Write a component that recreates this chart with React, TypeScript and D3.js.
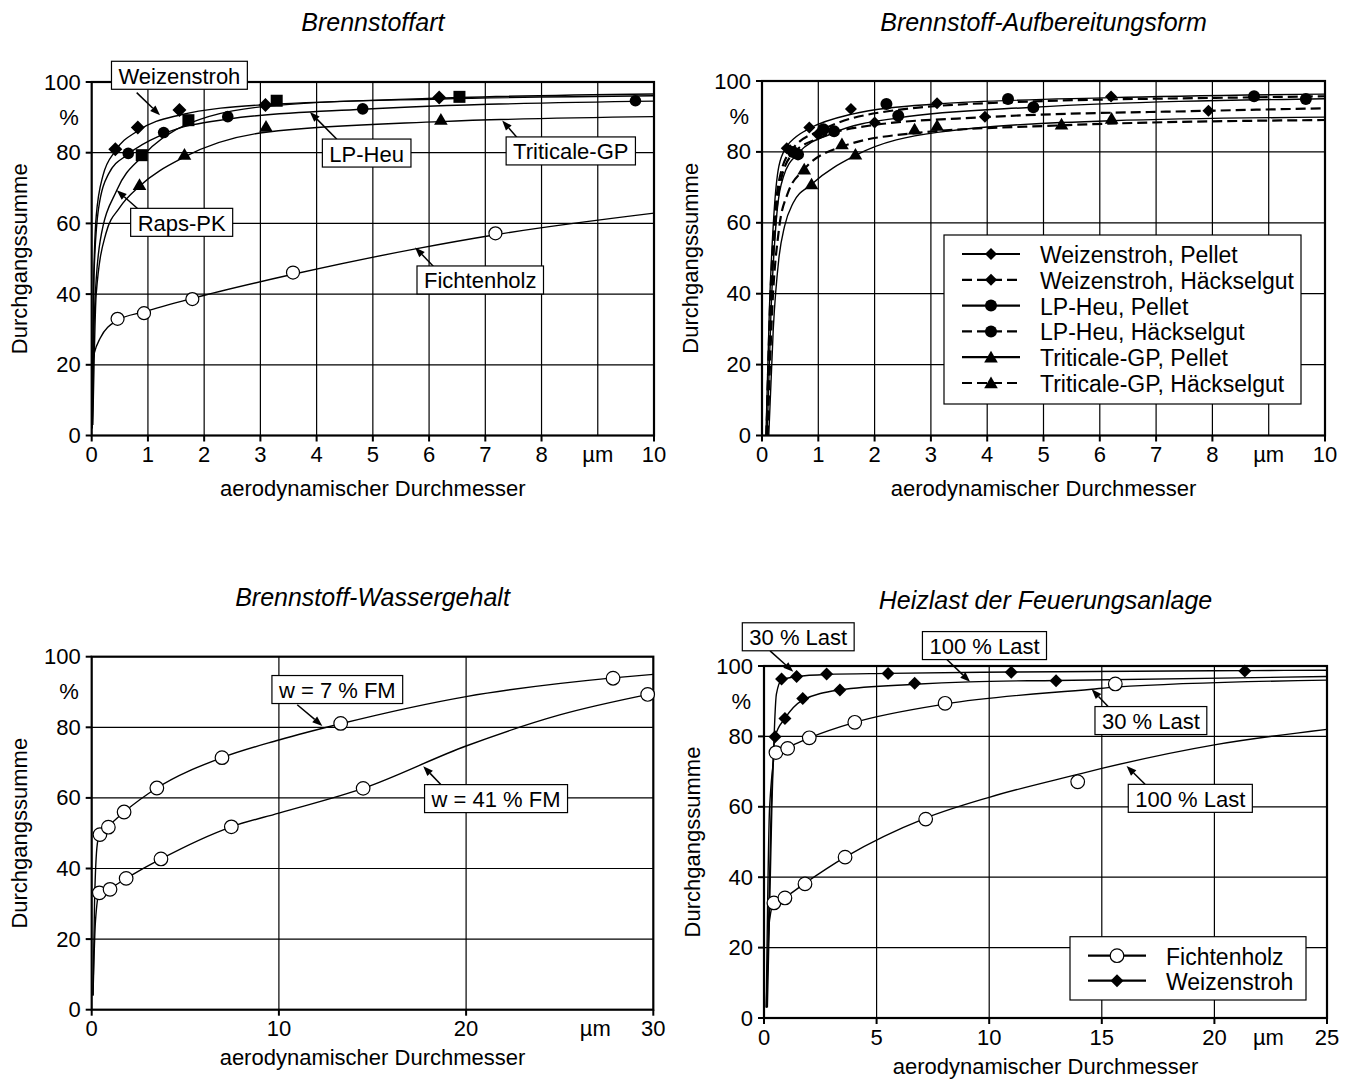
import React from 'react';
import * as d3 from 'd3';

type Pt = [number, number];

const FONT = "'Liberation Sans', Arial, Helvetica, sans-serif";

// ---------- Panel 1: Brennstoffart ----------
const p1WeizenMarks: Pt[] = [[0.42, 81.0], [0.82, 87.1], [1.56, 92.1], [3.09, 93.5], [6.18, 95.6]];
const p1WeizenTrend: Pt[] = [[0.01, 3], [0.03, 40], [0.08, 62], [0.2, 73.5], [0.42, 80.5], [0.82, 86.2], [1.55, 90.6], [3.1, 93.6], [6.2, 95.2], [10, 96.1]];
const p1RapsMarks: Pt[] = [[0.89, 79.3], [1.72, 89.2], [3.29, 94.7], [6.54, 95.8]];
const p1RapsTrend: Pt[] = [[0.01, 2], [0.05, 35], [0.15, 55], [0.45, 69.5], [0.89, 78.8], [1.72, 88.2], [3.29, 93.4], [6.54, 95.6], [10, 96.6]];
const p1HeuMarks: Pt[] = [[0.65, 79.8], [1.28, 85.7], [2.42, 90.2], [4.82, 92.4], [9.67, 94.7]];
const p1HeuTrend: Pt[] = [[0.01, 3], [0.04, 45], [0.12, 64], [0.3, 74], [0.65, 79.6], [1.28, 85.3], [2.42, 89.5], [4.82, 92.3], [10, 94.6]];
const p1TritMarks: Pt[] = [[0.85, 70.9], [1.65, 79.5], [3.1, 87.4], [6.21, 89.4]];
const p1TritTrend: Pt[] = [[0.02, 3], [0.08, 40], [0.25, 57], [0.5, 64.5], [0.85, 70.5], [1.65, 78.8], [3.1, 85.8], [6.21, 88.8], [10, 90.2]];
const p1FichtMarks: Pt[] = [[0.46, 33.0], [0.93, 34.6], [1.79, 38.6], [3.58, 46.1], [7.18, 57.2]];
const p1FichtTrend: Pt[] = [[0, 19.5], [0.05, 23.5], [0.15, 27.5], [0.46, 32.6], [0.93, 35.0], [1.79, 38.8], [3.58, 45.6], [5.76, 52.8], [7.18, 56.8], [10, 62.9]];

// ---------- Panel 2: Aufbereitungsform ----------
const p2WPMarks: Pt[] = [[0.44, 81.0], [0.84, 86.9], [1.58, 92.1], [3.11, 93.7], [6.2, 95.6]];
const p2WPTrend: Pt[] = [[0.07, 0], [0.13, 35], [0.21, 62], [0.3, 76], [0.44, 81.5], [0.6, 84.2], [0.84, 86.6], [1.58, 90.6], [3.11, 93.5], [6.2, 95.3], [10, 96.3]];
const p2WHMarks: Pt[] = [[0.5, 80.5], [0.99, 85.0], [2.0, 88.3], [3.96, 89.9], [7.93, 91.6]];
const p2WHTrend: Pt[] = [[0.08, 0], [0.15, 35], [0.24, 60], [0.35, 73], [0.55, 79.5], [1.0, 83.8], [2.0, 87.6], [3.96, 89.8], [7.93, 91.6], [10, 92.3]];
const p2LPMarks: Pt[] = [[0.64, 79.3], [1.28, 85.8], [2.42, 90.2], [4.82, 92.6], [9.66, 94.9]];
const p2LPTrend: Pt[] = [[0.09, 0], [0.16, 35], [0.25, 60], [0.38, 73], [0.64, 79.6], [1.28, 85.4], [2.42, 89.6], [4.82, 92.6], [10, 95.0]];
const p2LHMarks: Pt[] = [[0.55, 80.0], [1.09, 86.4], [2.21, 93.5], [4.37, 94.9], [8.74, 95.7]];
const p2LHTrend: Pt[] = [[0.08, 0], [0.14, 35], [0.23, 62], [0.35, 75], [0.55, 81], [1.09, 86.4], [2.21, 91.4], [4.37, 94.0], [8.74, 95.4], [10, 95.7]];
const p2TPMarks: Pt[] = [[0.88, 70.9], [1.66, 79.3], [3.11, 87.4], [6.21, 89.4]];
const p2TPTrend: Pt[] = [[0.12, 0], [0.2, 30], [0.3, 50], [0.4, 59], [0.55, 65.5], [0.88, 70.9], [1.66, 79.0], [3.11, 85.5], [6.21, 88.8], [10, 89.8]];
const p2THMarks: Pt[] = [[0.75, 75.1], [1.42, 82.2], [2.71, 86.4], [5.32, 87.8]];
const p2THTrend: Pt[] = [[0.1, 0], [0.18, 35], [0.3, 58], [0.45, 68], [0.75, 75.1], [1.42, 81.5], [2.71, 85.3], [5.32, 87.5], [10, 89.0]];
const p2LegendLabels = [
  'Weizenstroh, Pellet',
  'Weizenstroh, Häckselgut',
  'LP-Heu, Pellet',
  'LP-Heu, Häckselgut',
  'Triticale-GP, Pellet',
  'Triticale-GP, Häckselgut',
];

// ---------- Panel 3: Wassergehalt ----------
const p3W7Marks: Pt[] = [[0.44, 49.6], [0.89, 51.7], [1.73, 56.0], [3.48, 62.8], [6.96, 71.4], [13.3, 81.1], [27.85, 93.9]];
const p3W7Trend: Pt[] = [[0.07, 4], [0.15, 30], [0.3, 47], [0.44, 49.8], [0.89, 52.0], [1.73, 56.0], [3.48, 62.8], [6.96, 71.4], [10, 76.4], [13.3, 81.0], [20, 88.7], [27.85, 94.0], [30, 95.0]];
const p3W41Marks: Pt[] = [[0.41, 33.1], [0.98, 34.1], [1.84, 37.2], [3.7, 42.7], [7.46, 51.8], [14.5, 62.7], [29.7, 89.3]];
const p3W41Trend: Pt[] = [[0.07, 4], [0.2, 25], [0.41, 33.1], [0.98, 34.4], [1.84, 37.2], [3.7, 42.7], [7.46, 51.8], [10, 55.7], [14.5, 62.7], [20, 74.7], [25, 83.5], [30, 89.6]];

// ---------- Panel 4: Heizlast ----------
const p4W30Marks: Pt[] = [[0.78, 96.3], [1.45, 97.0], [2.78, 97.7], [5.51, 97.9], [10.98, 98.2], [21.35, 98.6]];
const p4W30Trend: Pt[] = [[0.15, 3], [0.35, 60], [0.55, 92], [0.78, 96.0], [1.45, 97.0], [2.78, 97.6], [5.51, 97.9], [10.98, 98.3], [21.35, 98.7], [25, 98.8]];
const p4W100Marks: Pt[] = [[0.49, 79.9], [0.93, 85.1], [1.72, 90.8], [3.37, 93.2], [6.69, 95.1], [12.97, 95.8]];
const p4W100Trend: Pt[] = [[0.12, 3], [0.3, 55], [0.49, 79.9], [0.93, 85.1], [1.72, 90.3], [3.37, 93.2], [6.69, 94.8], [9.13, 95.5], [12.97, 95.9], [25, 97.0]];
const p4F30Marks: Pt[] = [[0.53, 75.4], [1.05, 76.6], [2.01, 79.6], [4.03, 84.0], [8.04, 89.4], [15.6, 94.9]];
const p4F30Trend: Pt[] = [[0.1, 3], [0.25, 60], [0.53, 75.4], [1.05, 76.9], [2.01, 79.6], [4.03, 84.0], [8.04, 89.2], [14.55, 93.4], [15.6, 94.0], [25, 96.0]];
const p4F100Marks: Pt[] = [[0.44, 32.7], [0.93, 34.1], [1.82, 38.1], [3.6, 45.7], [7.18, 56.5], [13.93, 67.1]];
const p4F100Trend: Pt[] = [[0.1, 3], [0.25, 28], [0.44, 32.7], [0.93, 34.3], [1.82, 38.3], [3.6, 45.7], [7.18, 56.8], [10, 62.7], [13.93, 69.2], [15, 70.9], [20, 77.6], [25, 82.0]];
const p4LegendLabels = ['Fichtenholz', 'Weizenstroh'];

// ---------- axis ticks / titles ----------
const yTicks = [0, 20, 40, 60, 80, 100];
const xTicks10 = [0, 1, 2, 3, 4, 5, 6, 7, 8, 10];
const xGrid10 = [1, 2, 3, 4, 5, 6, 7, 8, 9];
const xTicks30 = [0, 10, 20, 30];
const xTicks25 = [0, 5, 10, 15, 20, 25];
const titles = ['Brennstoffart', 'Brennstoff-Aufbereitungsform', 'Brennstoff-Wassergehalt', 'Heizlast der Feuerungsanlage'];
const xTitle = 'aerodynamischer Durchmesser';
const yTitle = 'Durchgangssumme';

type Series = { marker: string; size: number; dashed?: boolean; marks: Pt[]; trend: Pt[] };
type Ann = { text: string; c: Pt; from: Pt; to: Pt };

const FS = 22;

let ctx: CanvasRenderingContext2D | null = null;
function measure(t: string, size: number) {
  if (!ctx) ctx = document.createElement('canvas').getContext('2d');
  if (!ctx) return t.length * size * 0.55;
  ctx.font = `${size}px 'Liberation Sans'`;
  return ctx.measureText(t).width;
}

function Marker({ type, x, y, s }: { type: string; x: number; y: number; s: number }) {
  if (type === 'diamond') return <path d={`M${x},${y - s}L${x + s},${y}L${x},${y + s}L${x - s},${y}Z`} fill="#000" />;
  if (type === 'square') return <rect x={x - s} y={y - s} width={2 * s} height={2 * s} fill="#000" />;
  if (type === 'circle') return <circle cx={x} cy={y} r={s} fill="#000" />;
  if (type === 'triangle') return <path d={`M${x},${y - s}L${x + s * 1.05},${y + s * 0.8}L${x - s * 1.05},${y + s * 0.8}Z`} fill="#000" />;
  return <circle cx={x} cy={y} r={s} fill="#fff" stroke="#000" strokeWidth={1.2} />;
}

type PanelProps = {
  id: string;
  left: number; top: number; width: number; height: number;
  xMax: number; xTicks: number[]; xGrid: number[]; umAt: number;
  title: string; titleDy: number; xTitleDy: number;
  series: Series[]; anns: Ann[];
  legend?: { labels: string[]; series: Series[]; x: number; y: number; w: number; h: number; rowH: number };
};

function Panel(p: PanelProps) {
  const x = d3.scaleLinear().domain([0, p.xMax]).range([0, p.width]);
  const y = d3.scaleLinear().domain([0, 100]).range([p.height, 0]);
  const line = d3.line<Pt>().x(d => x(d[0])).y(d => y(d[1])).curve(d3.curveMonotoneX);
  const fs = FS;
  return (
    <g transform={`translate(${p.left},${p.top})`}>
      <defs>
        <clipPath id={`clip-${p.id}`}><rect x={0} y={-2} width={p.width} height={p.height + 2} /></clipPath>
      </defs>
      <text x={p.width / 2} y={p.titleDy} textAnchor="middle" dominantBaseline="central" fontStyle="italic" fontSize={25} fontFamily={FONT}>{p.title}</text>
      {/* grid */}
      {p.xGrid.map(v => <line key={'gx' + v} x1={x(v)} x2={x(v)} y1={0} y2={p.height} stroke="#000" strokeWidth={1.2} />)}
      {yTicks.filter(v => v > 0 && v < 100).map(v => <line key={'gy' + v} x1={0} x2={p.width} y1={y(v)} y2={y(v)} stroke="#000" strokeWidth={1.2} />)}
      <rect x={0} y={0} width={p.width} height={p.height} fill="none" stroke="#000" strokeWidth={2.2} />
      {/* ticks */}
      {p.xTicks.map(v => <line key={'tx' + v} x1={x(v)} x2={x(v)} y1={p.height} y2={p.height + 6} stroke="#000" strokeWidth={2} />)}
      {yTicks.map(v => <line key={'ty' + v} x1={-6} x2={0} y1={y(v)} y2={y(v)} stroke="#000" strokeWidth={2} />)}
      {p.xTicks.map(v => <text key={'lx' + v} x={x(v)} y={p.height + 19} textAnchor="middle" dominantBaseline="central" fontSize={fs} fontFamily={FONT}>{v}</text>)}
      <text x={x(p.umAt)} y={p.height + 19} textAnchor="middle" dominantBaseline="central" fontSize={fs} fontFamily={FONT}>µm</text>
      {yTicks.map(v => <text key={'ly' + v} x={-11} y={y(v)} textAnchor="end" dominantBaseline="central" fontSize={fs} fontFamily={FONT}>{v}</text>)}
      <text x={-13} y={y(90)} textAnchor="end" dominantBaseline="central" fontSize={fs} fontFamily={FONT}>%</text>
      <text x={p.width / 2} y={p.height + p.xTitleDy} textAnchor="middle" dominantBaseline="central" fontSize={fs} fontFamily={FONT}>{xTitle}</text>
      <text transform={`translate(-72,${p.height / 2}) rotate(-90)`} textAnchor="middle" dominantBaseline="central" fontSize={fs} fontFamily={FONT}>{yTitle}</text>
      {/* curves */}
      <g clipPath={`url(#clip-${p.id})`}>
        {p.series.map((s, i) => (
          <path key={'c' + i} d={line(s.trend) || ''} fill="none" stroke="#000" strokeWidth={s.dashed ? 2.2 : 1.4} strokeDasharray={s.dashed ? '10,5' : undefined} />
        ))}
      </g>
      {p.series.map((s, i) => (
        <g key={'m' + i}>
          {s.marks.map((d, j) => <Marker key={j} type={s.marker} x={x(d[0])} y={y(d[1])} s={s.size} />)}
        </g>
      ))}
      {/* annotations */}
      {p.anns.map((a, i) => {
        const w = measure(a.text, fs) + 14;
        const h = 28;
        const cx = x(a.c[0]), cy = y(a.c[1]);
        const x1 = x(a.from[0]), y1 = y(a.from[1]), x2 = x(a.to[0]), y2 = y(a.to[1]);
        const ang = Math.atan2(y2 - y1, x2 - x1);
        const L = 10, W = 3.8;
        const bx = x2 - L * Math.cos(ang), by = y2 - L * Math.sin(ang);
        const px = -Math.sin(ang) * W, py = Math.cos(ang) * W;
        return (
          <g key={'a' + i}>
            <line x1={x1} y1={y1} x2={bx} y2={by} stroke="#000" strokeWidth={1.5} />
            <path d={`M${x2},${y2}L${bx + px},${by + py}L${bx - px},${by - py}Z`} fill="#000" />
            <rect x={cx - w / 2} y={cy - h / 2} width={w} height={h} fill="#fff" stroke="#000" strokeWidth={1.2} />
            <text x={cx} y={cy + 1} textAnchor="middle" dominantBaseline="central" fontSize={fs} fontFamily={FONT}>{a.text}</text>
          </g>
        );
      })}
      {/* legend */}
      {p.legend && (
        <g transform={`translate(${p.legend.x},${p.legend.y})`}>
          <rect x={0} y={0} width={p.legend.w} height={p.legend.h} fill="#fff" stroke="#000" strokeWidth={1.2} />
          {p.legend.labels.map((lab, i) => {
            const s = p.legend!.series[i];
            const ry = 19 + i * p.legend!.rowH;
            return (
              <g key={'lg' + i}>
                <line x1={18} x2={76} y1={ry} y2={ry} stroke="#000" strokeWidth={2.2} strokeDasharray={s.dashed ? '10,5' : undefined} />
                <Marker type={s.marker} x={47} y={ry} s={s.size} />
                <text x={96} y={ry + 1} dominantBaseline="central" fontSize={23} fontFamily={FONT}>{lab}</text>
              </g>
            );
          })}
        </g>
      )}
    </g>
  );
}

export default function App() {
  const s1: Series[] = [
    { marker: 'diamond', size: 7, marks: p1WeizenMarks, trend: p1WeizenTrend },
    { marker: 'square', size: 6, marks: p1RapsMarks, trend: p1RapsTrend },
    { marker: 'circle', size: 5.8, marks: p1HeuMarks, trend: p1HeuTrend },
    { marker: 'triangle', size: 6.5, marks: p1TritMarks, trend: p1TritTrend },
    { marker: 'ocircle', size: 6.5, marks: p1FichtMarks, trend: p1FichtTrend },
  ];
  const a1: Ann[] = [
    { text: 'Weizenstroh', c: [1.56, 101.9], from: [0.8, 97.0], to: [1.215, 90.6] },
    { text: 'Raps-PK', c: [1.6, 60.3], from: [0.83, 64.0], to: [0.445, 69.4] },
    { text: 'LP-Heu', c: [4.89, 79.9], from: [4.36, 83.8], to: [3.88, 91.5] },
    { text: 'Triticale-GP', c: [8.52, 80.5], from: [7.56, 84.4], to: [7.3, 89.1] },
    { text: 'Fichtenholz', c: [6.91, 44.0], from: [6.075, 47.9], to: [5.75, 53.2] },
  ];
  const s2: Series[] = [
    { marker: 'diamond', size: 6, marks: p2WPMarks, trend: p2WPTrend },
    { marker: 'diamond', size: 6, dashed: true, marks: p2WHMarks, trend: p2WHTrend },
    { marker: 'circle', size: 6, marks: p2LPMarks, trend: p2LPTrend },
    { marker: 'circle', size: 6, dashed: true, marks: p2LHMarks, trend: p2LHTrend },
    { marker: 'triangle', size: 6.5, marks: p2TPMarks, trend: p2TPTrend },
    { marker: 'triangle', size: 6.5, dashed: true, marks: p2THMarks, trend: p2THTrend },
  ];
  const s3: Series[] = [
    { marker: 'ocircle', size: 6.8, marks: p3W7Marks, trend: p3W7Trend },
    { marker: 'ocircle', size: 6.8, marks: p3W41Marks, trend: p3W41Trend },
  ];
  const a3: Ann[] = [
    { text: 'w = 7 % FM', c: [13.12, 90.7], from: [10.98, 86.4], to: [12.32, 80.4] },
    { text: 'w = 41 % FM', c: [21.6, 59.8], from: [18.66, 63.7], to: [17.71, 69.0] },
  ];
  const s4: Series[] = [
    { marker: 'diamond', size: 6.5, marks: p4W30Marks, trend: p4W30Trend },
    { marker: 'diamond', size: 6.5, marks: p4W100Marks, trend: p4W100Trend },
    { marker: 'ocircle', size: 6.8, marks: p4F30Marks, trend: p4F30Trend },
    { marker: 'ocircle', size: 6.8, marks: p4F100Marks, trend: p4F100Trend },
  ];
  const a4: Ann[] = [
    { text: '30 % Last', c: [1.52, 108.3], from: [0.27, 104.3], to: [1.3, 98.4] },
    { text: '100 % Last', c: [9.79, 105.8], from: [8.11, 101.9], to: [9.15, 95.5] },
    { text: '30 % Last', c: [17.18, 84.5], from: [15.29, 88.4], to: [14.55, 93.4] },
    { text: '100 % Last', c: [18.93, 62.4], from: [16.92, 66.4], to: [16.1, 71.6] },
  ];
  const legend4Series: Series[] = [
    { marker: 'ocircle', size: 6.8, marks: [], trend: [] },
    { marker: 'diamond', size: 6.5, marks: [], trend: [] },
  ];
  return (
    <svg width={1356} height={1088} style={{ position: 'absolute', left: 0, top: 0, display: 'block', background: '#fff' }}>
      <rect x={0} y={0} width={1356} height={1088} fill="#fff" />
      <Panel id="p1" left={91.7} top={82} width={562.3} height={353.5} xMax={10} xTicks={xTicks10} xGrid={xGrid10} umAt={9}
        title={titles[0]} titleDy={-60} xTitleDy={53} series={s1} anns={a1} />
      <Panel id="p2" left={762} top={81} width={563} height={354.5} xMax={10} xTicks={xTicks10} xGrid={xGrid10} umAt={9}
        title={titles[1]} titleDy={-59} xTitleDy={53} series={s2} anns={[]}
        legend={{ labels: p2LegendLabels, series: s2, x: 182, y: 154, w: 357, h: 169, rowH: 25.8 }} />
      <Panel id="p3" left={91.7} top={656.7} width={561.6} height={353} xMax={30} xTicks={xTicks30} xGrid={[10, 20]} umAt={26.9}
        title={titles[2]} titleDy={-60} xTitleDy={48} series={s3} anns={a3} />
      <Panel id="p4" left={764} top={666} width={563} height={352} xMax={25} xTicks={xTicks25} xGrid={[5, 10, 15, 20]} umAt={22.4}
        title={titles[3]} titleDy={-66} xTitleDy={48} series={s4} anns={a4}
        legend={{ labels: p4LegendLabels, series: legend4Series, x: 306, y: 270.7, w: 236, h: 63.3, rowH: 25 }} />
    </svg>
  );
}
